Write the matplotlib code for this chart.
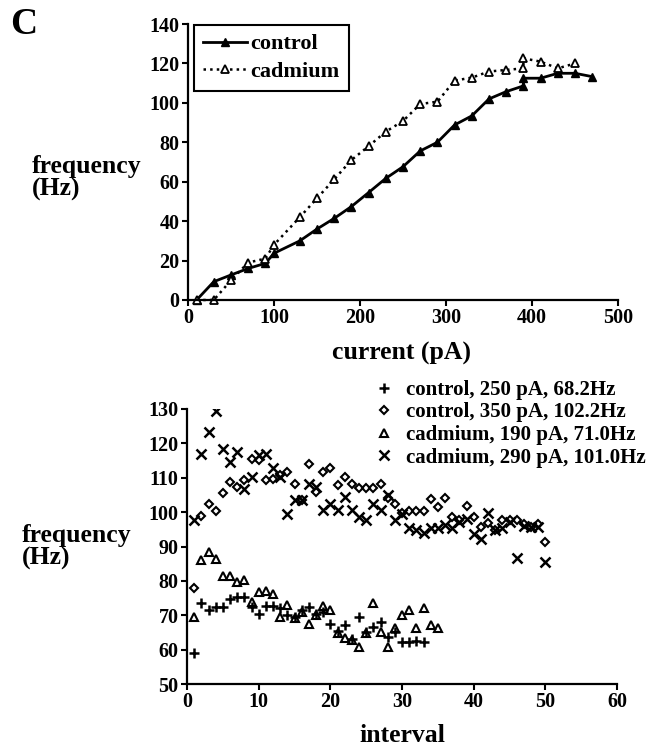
import matplotlib
matplotlib.use("Agg")
import matplotlib.pyplot as plt

plt.rcParams['font.family'] = ['Liberation Serif', 'DejaVu Serif']
plt.rcParams['font.weight'] = 'bold'

# ---------------- top panel data ----------------
current_control = [10, 30, 50, 70, 90, 100, 130, 150, 170, 190, 210, 230, 250, 270, 290,
                   310, 330, 350, 370, 390, 390, 410, 430, 450, 470]
freq_control = [0, 9.3, 12.7, 16, 18.6, 23.7, 30, 36, 41.4, 47.4, 54.5, 61.7, 67.6, 75.6, 80,
                88.8, 93.4, 102, 105.7, 108.6, 112.5, 112.5, 115, 115, 113.3]
current_cadmium = [10, 30, 50, 70, 90, 100, 130, 150, 170, 190, 210, 230, 250, 270, 290,
                   310, 330, 350, 370, 390, 390, 410, 430, 450]
freq_cadmium = [0, 0, 10, 19, 21, 28, 42, 51.6, 61.2, 71, 78, 85.4, 90.8, 99.4, 100.6,
                111.3, 112.8, 115.9, 116.7, 117.5, 122.6, 120.9, 117.5, 120]

# ---------------- bottom panel data ----------------
ctrl250 = [59, 73.5, 71.5, 72.5, 72.5, 74.8, 75.3, 75.3, 72.5, 70.3, 72.8, 72.7, 72, 70, 69.5,
           71.5, 72.5, 70.5, 71, 67.6, 65.5, 67.2, 63, 69.4, 65, 66.5, 68.1, 63.8, 65, 62.3,
           62.3, 62.5, 62.3]
ctrl350 = [77.8, 98.8, 102.5, 100.4, 105.6, 108.8, 107.4, 109.3, 115.4, 115.1, 109.3, 109.5,
           110.8, 111.7, 108.1, 103.5, 114.1, 105.9, 111.7, 112.7, 108, 110.3, 108.1, 106.9,
           106.9, 106.9, 108.3, 104, 102.5, 99.8, 100.4, 100.4, 100.4, 103.7, 101.5, 104,
           98.6, 97.8, 101.7, 98.6, 95.7, 96.9, 94.8, 97.7, 97.7, 97.7, 96.5, 95.7, 96.5, 91.4]
cad190 = [69.4, 86, 88.5, 86.5, 81.4, 81.4, 79.7, 80.2, 74, 76.8, 77.1, 76.3, 69.6, 73, 69.1,
          71, 67.6, 70, 72.7, 71.5, 64.7, 63.3, 62.8, 60.8, 64.7, 73.6, 65.2, 60.8, 66.2, 70,
          71.5, 66.2, 72.2, 67.1, 66.2]
cad290 = [97.7, 117, 123.2, 129.4, 118.3, 114.6, 117.5, 106.6, 110.3, 116.6, 117, 112.7, 110.3,
          99.6, 103.5, 103.5, 108.3, 107.2, 100.6, 102.5, 100.6, 104.5, 100.6, 98.5, 97.7,
          102.5, 100.6, 105, 97.7, 99.4, 95.3, 94.8, 93.8, 95.5, 95.3, 96.2, 95.3, 97.2, 98,
          93.5, 92.3, 99.7, 94.8, 95.3, 97, 86.8, 96, 95.7, 95.7, 85.5]
labels_bottom = ["control, 250 pA, 68.2Hz", "control, 350 pA, 102.2Hz",
                 "cadmium, 190 pA, 71.0Hz", "cadmium, 290 pA, 101.0Hz"]

W, H = 658, 749
fig = plt.figure(figsize=(W / 100, H / 100), dpi=100)

FS = 14.5
LFS = 18.5

def style(ax):
    for s in ['top', 'right']:
        ax.spines[s].set_visible(False)
    for s in ['left', 'bottom']:
        ax.spines[s].set_linewidth(1.6)
    ax.tick_params(direction='out', length=4, width=1.5, labelsize=FS, pad=2)
    for lab in ax.get_xticklabels() + ax.get_yticklabels():
        lab.set_fontweight('bold')

# top axes
ax1 = fig.add_axes([188 / W, 1 - 300 / H, 430 / W, 276 / H])
ax1.plot(current_control, freq_control, '-', color='black', lw=2.0, marker='^',
         ms=6, mfc='black', mec='black', label='control', clip_on=False)
ax1.plot(current_cadmium, freq_cadmium, ':', color='black', lw=1.8, marker='^',
         ms=6, mfc='white', mec='black', mew=1.3, label='cadmium', clip_on=False)
ax1.set_xlim(0, 500)
ax1.set_ylim(0, 140)
ax1.set_xticks(range(0, 501, 100))
ax1.set_yticks(range(0, 141, 20))
style(ax1)
leg1 = ax1.legend(loc='upper left', bbox_to_anchor=(194 / W, 1 - 25 / H),
                  bbox_transform=fig.transFigure, borderaxespad=0, fancybox=False,
                  edgecolor='black', prop={'size': 16, 'weight': 'bold'},
                  handlelength=2.0, handletextpad=0.15, borderpad=0.4, labelspacing=0.3,
                  framealpha=1)
leg1.get_frame().set_linewidth(1.5)

# bottom axes
ax2 = fig.add_axes([187 / W, 1 - 684 / H, 430 / W, 275 / H])
x250 = list(range(1, len(ctrl250) + 1))
x350 = list(range(1, len(ctrl350) + 1))
x190 = list(range(1, len(cad190) + 1))
x290 = list(range(1, len(cad290) + 1))
h1, = ax2.plot(x250, ctrl250, ls='none', marker='+', ms=7, mew=1.8, color='black')
h2, = ax2.plot(x350, ctrl350, ls='none', marker='D', ms=4, mew=1.5, mfc='none', mec='black')
h3, = ax2.plot(x190, cad190, ls='none', marker='^', ms=6, mew=1.5, mfc='none', mec='black')
h4, = ax2.plot(x290, cad290, ls='none', marker='x', ms=6.5, mew=1.8, color='black')
ax2.set_xlim(0, 60)
ax2.set_ylim(50, 130)
ax2.set_xticks(range(0, 61, 10))
ax2.set_yticks(range(50, 131, 10))
style(ax2)
leg2 = ax2.legend([h1, h2, h3, h4], labels_bottom, loc='upper left',
                  bbox_to_anchor=(374 / W, 1 - 380 / H), bbox_transform=fig.transFigure,
                  borderaxespad=0, frameon=False, prop={'size': 15, 'weight': 'bold'},
                  handlelength=1.0, handletextpad=0.55, labelspacing=0.12, borderpad=0)

# texts
fig.text(10 / W, 1 - 25 / H, "C", fontsize=27, fontweight='bold', va='center', ha='left')
fig.text(32 / W, 1 - 178 / H, "frequency\n(Hz)", fontsize=LFS, fontweight='bold',
         va='center', ha='left', linespacing=1.0)
fig.text(22 / W, 1 - 547 / H, "frequency\n(Hz)", fontsize=LFS, fontweight='bold',
         va='center', ha='left', linespacing=1.0)
fig.text(401 / W, 1 - 353 / H, "current (pA)", fontsize=LFS, fontweight='bold',
         va='center', ha='center')
fig.text(402 / W, 1 - 735 / H, "interval", fontsize=LFS, fontweight='bold',
         va='center', ha='center')

fig.savefig("out.png", dpi=100)
